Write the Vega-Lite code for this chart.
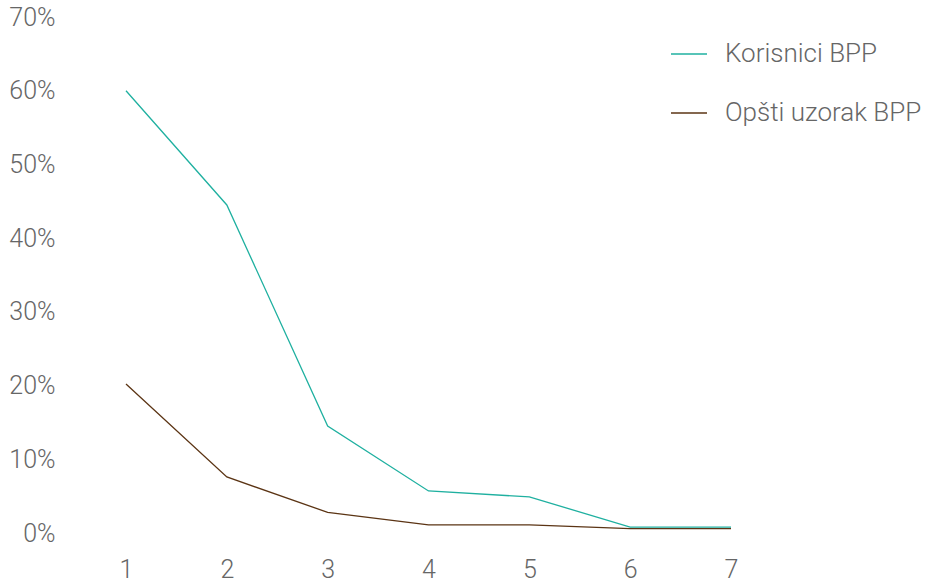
{
  "$schema": "https://vega.github.io/schema/vega-lite/v6.json",
  "width": 605,
  "height": 516,
  "autosize": {"type": "none"},
  "padding": {"left": 126, "top": 17, "right": 202, "bottom": 51},
  "background": "white",
  "config": {
    "view": {"stroke": null},
    "font": "Roboto",
    "axis": {
      "labelFont": "Roboto",
      "labelFontWeight": 300,
      "labelFontSize": 25,
      "labelColor": "#666666",
      "domain": false,
      "ticks": false,
      "grid": false,
      "title": null
    },
    "legend": {
      "labelFont": "Roboto",
      "labelFontWeight": 300,
      "labelFontSize": 26,
      "labelColor": "#666666",
      "labelLimit": 0
    }
  },
  "data": {
    "values": [
      {"step": 1, "group": "Korisnici BPP", "share": 0.600},
      {"step": 2, "group": "Korisnici BPP", "share": 0.445},
      {"step": 3, "group": "Korisnici BPP", "share": 0.145},
      {"step": 4, "group": "Korisnici BPP", "share": 0.057},
      {"step": 5, "group": "Korisnici BPP", "share": 0.049},
      {"step": 6, "group": "Korisnici BPP", "share": 0.008},
      {"step": 7, "group": "Korisnici BPP", "share": 0.008},
      {"step": 1, "group": "Opšti uzorak BPP", "share": 0.202},
      {"step": 2, "group": "Opšti uzorak BPP", "share": 0.076},
      {"step": 3, "group": "Opšti uzorak BPP", "share": 0.028},
      {"step": 4, "group": "Opšti uzorak BPP", "share": 0.011},
      {"step": 5, "group": "Opšti uzorak BPP", "share": 0.011},
      {"step": 6, "group": "Opšti uzorak BPP", "share": 0.006},
      {"step": 7, "group": "Opšti uzorak BPP", "share": 0.006}
    ]
  },
  "mark": {"type": "line", "strokeWidth": 1.3},
  "encoding": {
    "x": {
      "field": "step",
      "type": "quantitative",
      "scale": {"domain": [1, 7], "nice": false, "zero": false},
      "axis": {"values": [1, 2, 3, 4, 5, 6, 7], "format": "d", "labelPadding": 24, "labelFlush": false}
    },
    "y": {
      "field": "share",
      "type": "quantitative",
      "scale": {"domain": [0, 0.7], "nice": false},
      "axis": {"values": [0, 0.1, 0.2, 0.3, 0.4, 0.5, 0.6, 0.7], "format": ".0%", "labelPadding": 71, "labelFlush": false}
    },
    "color": {
      "field": "group",
      "type": "nominal",
      "scale": {"domain": ["Korisnici BPP", "Opšti uzorak BPP"], "range": ["#1fb0a0", "#5b3414"]},
      "legend": {
        "title": null,
        "orient": "none",
        "legendX": 544,
        "legendY": 18,
        "symbolType": "stroke",
        "symbolSize": 1296,
        "symbolStrokeWidth": 1.5,
        "labelOffset": 17,
        "rowPadding": 27
      }
    }
  }
}
